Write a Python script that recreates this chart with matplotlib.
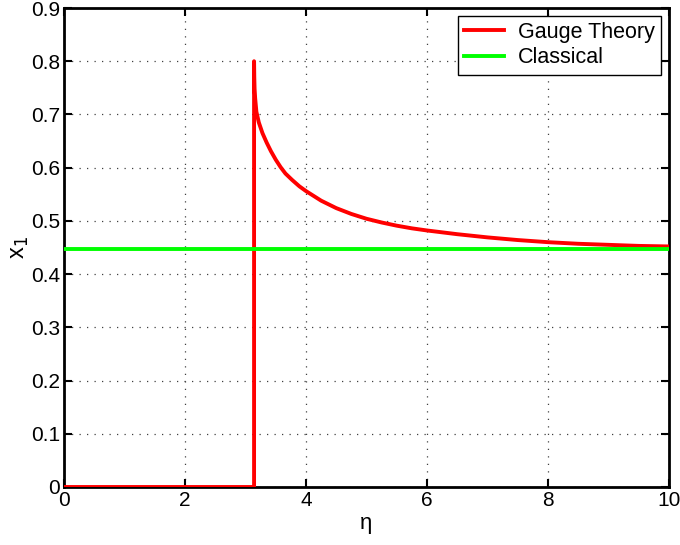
import matplotlib
matplotlib.use("Agg")
import matplotlib.pyplot as plt

plt.rcParams['font.family'] = ['Liberation Sans', 'DejaVu Sans']

# Gauge theory curve
eta_gauge = [0.0, 1.0, 2.0, 3.1416, 3.1416, 3.145, 3.15, 3.16, 3.18, 3.22, 3.28, 3.35,
             3.42, 3.5, 3.58, 3.66, 3.77, 3.89, 4.0, 4.25, 4.5, 4.75, 5.0, 5.25,
             5.5, 5.75, 6.0, 6.5, 7.0, 7.5, 8.0, 8.5, 9.0, 9.5, 10.0]
x1_gauge = [0.0, 0.0, 0.0, 0.0, 0.80, 0.77, 0.748, 0.73, 0.705, 0.685, 0.665, 0.647,
            0.631, 0.615, 0.601, 0.589, 0.577, 0.565, 0.556, 0.538, 0.524, 0.513, 0.504, 0.497,
            0.491, 0.486, 0.482, 0.475, 0.469, 0.464, 0.460, 0.457, 0.455, 0.453, 0.452]

# Classical constant
eta_classical = [0.0, 10.0]
x1_classical = [0.4472, 0.4472]

xticks = [0, 2, 4, 6, 8, 10]
yticks = [0, 0.1, 0.2, 0.3, 0.4, 0.5, 0.6, 0.7, 0.8, 0.9]
yticklabels = ['0', '0.1', '0.2', '0.3', '0.4', '0.5', '0.6', '0.7', '0.8', '0.9']

fig = plt.figure(figsize=(6.8, 5.45), dpi=100)
ax = fig.add_axes([64/680, 1-487/545, (669-64)/680, (487-8)/545])

ax.plot(eta_gauge, x1_gauge, color=(1, 0, 0), lw=2.8, label='Gauge Theory', zorder=3)
ax.plot(eta_classical, x1_classical, color=(0, 1, 0), lw=2.8, label='Classical', zorder=3)

ax.set_xlim(0, 10)
ax.set_ylim(0, 0.9)
ax.set_xticks(xticks)
ax.set_xticklabels([str(t) for t in xticks])
ax.set_yticks(yticks)
ax.set_yticklabels(yticklabels)

ax.grid(True, color='0.25', linestyle=(0, (1, 5)), linewidth=0.9)
ax.tick_params(direction='in', length=6, width=1.5, top=True, right=True,
               labelsize=15, pad=3, colors='k')
for s in ax.spines.values():
    s.set_linewidth(2.0)
    s.set_color('k')

ax.set_xlabel('η', fontsize=16, labelpad=2)
ax.set_ylabel('x$_1$', fontsize=17, labelpad=0)

leg = ax.legend(loc='upper right', fontsize=15.5, frameon=True, fancybox=False,
                edgecolor='k', framealpha=1, handlelength=1.85, borderpad=0.3,
                labelspacing=0.2, handletextpad=0.65, borderaxespad=0.35)
leg.get_frame().set_linewidth(1.0)

fig.savefig('out.png', dpi=100)
